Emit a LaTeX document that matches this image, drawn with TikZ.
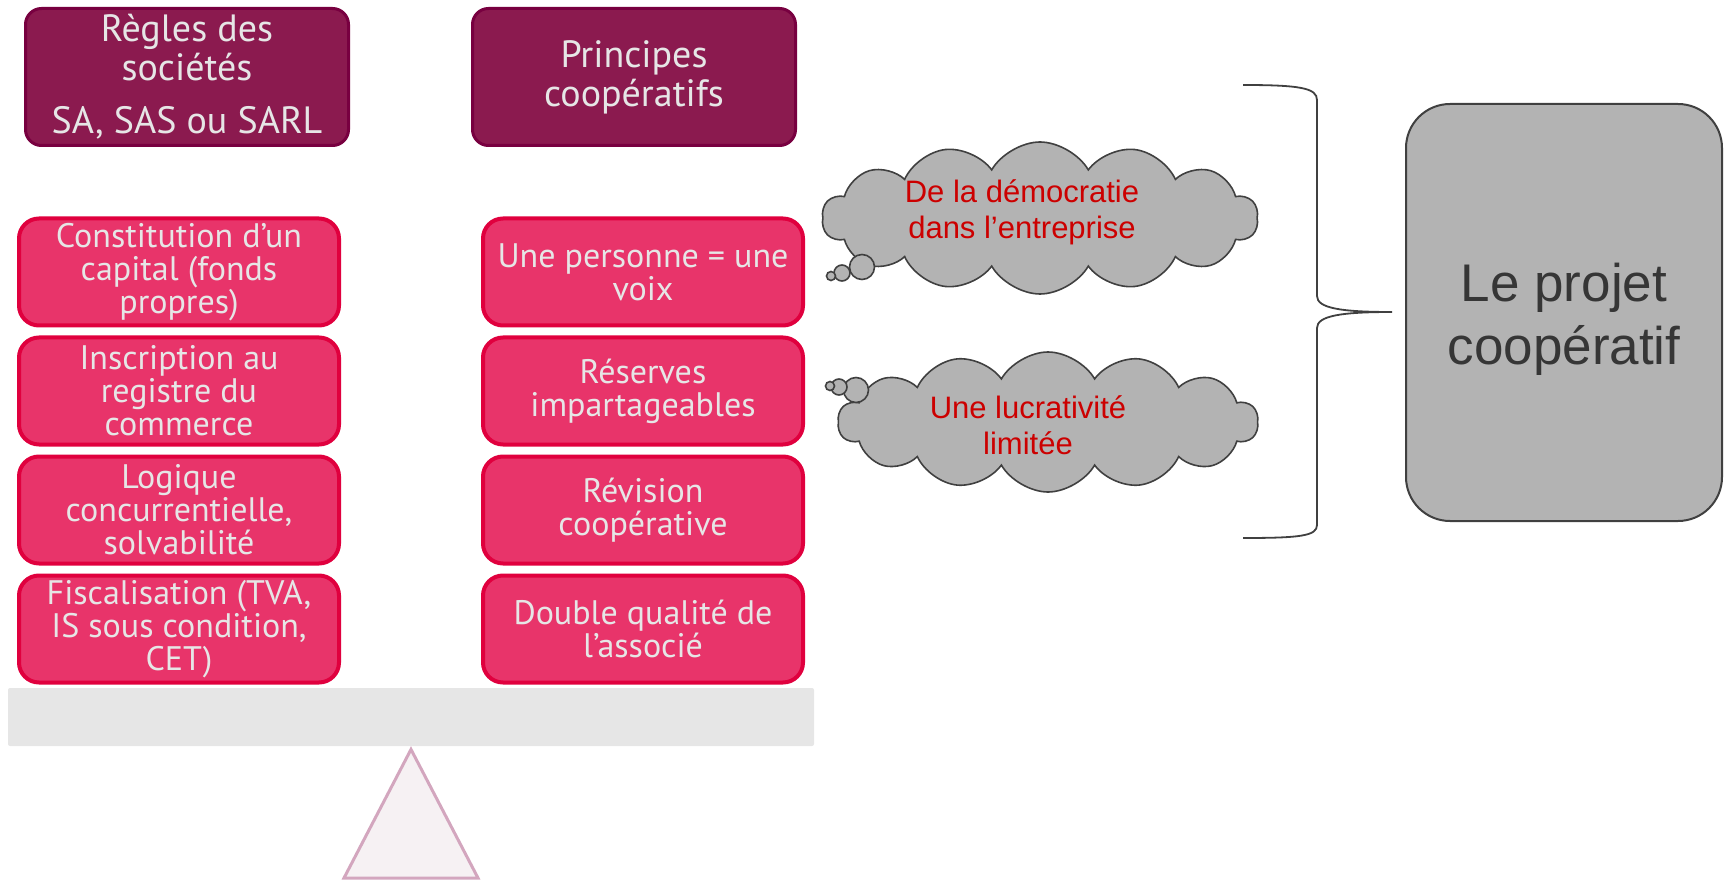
\documentclass[tikz,border=0pt]{standalone}
\usepackage{fontspec}
\setmainfont{Liberation Sans}
\newfontfamily\condfont{PT Sans}
\usetikzlibrary{shapes,shapes.symbols,positioning,calc}

\definecolor{prune}{HTML}{8B1A4F}
\definecolor{prunebord}{HTML}{780040}
\definecolor{rose}{HTML}{E8346A}
\definecolor{rosebord}{HTML}{E0003E}
\definecolor{clair}{HTML}{E6E6E6}
\definecolor{gris}{HTML}{B3B3B3}
\definecolor{grisbord}{HTML}{404040}
\definecolor{texte}{HTML}{363636}
\definecolor{rouge}{HTML}{CC0000}
\definecolor{pied}{HTML}{F6F1F3}
\definecolor{piedbord}{HTML}{D3A6BE}

\begin{document}
\begin{tikzpicture}[x=0.5pt,y=-0.5pt,node distance=4pt,
    titre/.style={draw=prunebord,line width=1.5pt,fill=prune,rounded corners=8pt,minimum width=161.5pt,minimum height=68.5pt,align=center,text=clair,font=\condfont\fontsize{19}{19.5}\selectfont,inner sep=0pt},
    regle/.style={draw=rosebord,line width=2pt,fill=rose,rounded corners=10pt,minimum width=160pt,minimum height=53.5pt,align=center,text=clair,font=\condfont\fontsize{17}{16.5}\selectfont,inner sep=0pt},
    nuage/.style={cloud,cloud puffs=14,cloud puff arc=120,aspect=3,draw=grisbord,line width=0.8pt,fill=gris,inner sep=0pt},
    pensee/.style={text=rouge,align=center,font=\fontsize{15.5}{18}\selectfont,inner sep=0pt},
    bulle/.style={circle,draw=grisbord,line width=0.8pt,fill=gris,inner sep=0pt}]
  \useasboundingbox (0,0) rectangle (1730,882);

  % les deux titres
  \node [titre] (regles) at (187,77) {R\`egles des\\soci\'et\'es\\[7pt]SA, SAS ou SARL};
  \node [titre,right=60.5pt of regles] (principes) {Principes\\coop\'eratifs};

  % colonne de gauche
  \node [regle] (l1) at (179,272) {Constitution d’un\\capital (fonds\\propres)};
  \node [regle,below=of l1] (l2) {Inscription au\\registre du\\commerce};
  \node [regle,below=of l2] (l3) {Logique\\concurrentielle,\\solvabilit\'e};
  \node [regle,below=of l3] (l4) {Fiscalisation (TVA,\\IS sous condition,\\CET)};

  % colonne de droite
  \node [regle,right=70pt of l1] (r1) {Une personne = une\\voix};
  \node [regle,right=70pt of l2] (r2) {R\'eserves\\impartageables};
  \node [regle,right=70pt of l3] (r3) {R\'evision\\coop\'erative};
  \node [regle,right=70pt of l4] (r4) {Double qualit\'e de\\l’associ\'e};

  % la balance
  \node [fill=clair,rounded corners=1pt,minimum width=403pt,minimum height=29pt,inner sep=0pt] (beam) at (411,717) {};
  \draw [piedbord,fill=pied,line width=1.5pt] ($(beam.south)+(0,3)$) -- (478,878) -- (344,878) -- cycle;

  % les nuages
  \node [nuage,minimum width=218pt,minimum height=76pt] (nuage1) at (1040,218) {};
  \node [pensee] (t1) at (1022,212) {De la d\'emocratie\\dans l’entreprise};
  \node [bulle,minimum size=12.5pt] (b11) at (862,267) {};
  \node [bulle,minimum size=8pt] (b12) at (842,273) {};
  \node [bulle,minimum size=4.5pt] (b13) at (831,276) {};

  \node [nuage,minimum width=210pt,minimum height=70pt] (nuage2) at (1048,422) {};
  \node [pensee] (t2) at (1028,425) {Une lucrativit\'e\\limit\'ee};
  \node [bulle,minimum size=12.5pt] (b21) at (856,390) {};
  \node [bulle,minimum size=8pt] (b22) at (839,387) {};
  \node [bulle,minimum size=4.5pt] (b23) at (830,386) {};

  % accolade
  \coordinate (haut) at (1243,85);
  \coordinate (pointe) at (1392,312);
  \coordinate (bas) at (1243,538);
  \draw [grisbord,line width=0.9pt] (haut) .. controls (1300,85) and (1317,88) .. (1317,100) -- (1317,296)
    .. controls (1317,308) and (1340,312) .. (pointe)
    .. controls (1340,312) and (1317,316) .. (1317,328) -- (1317,525)
    .. controls (1317,536) and (1300,538) .. (bas);

  % le projet
  \node [draw=grisbord,line width=1pt,fill=gris,rounded corners=22pt,minimum width=158pt,minimum height=208.5pt] (projet) at (1564,312.5) {};
  \node [align=center,text=texte,font=\fontsize{26.5}{31.5}\selectfont] (titreprojet) at (1564,319) {Le projet\\coop\'eratif};
\end{tikzpicture}
\end{document}
